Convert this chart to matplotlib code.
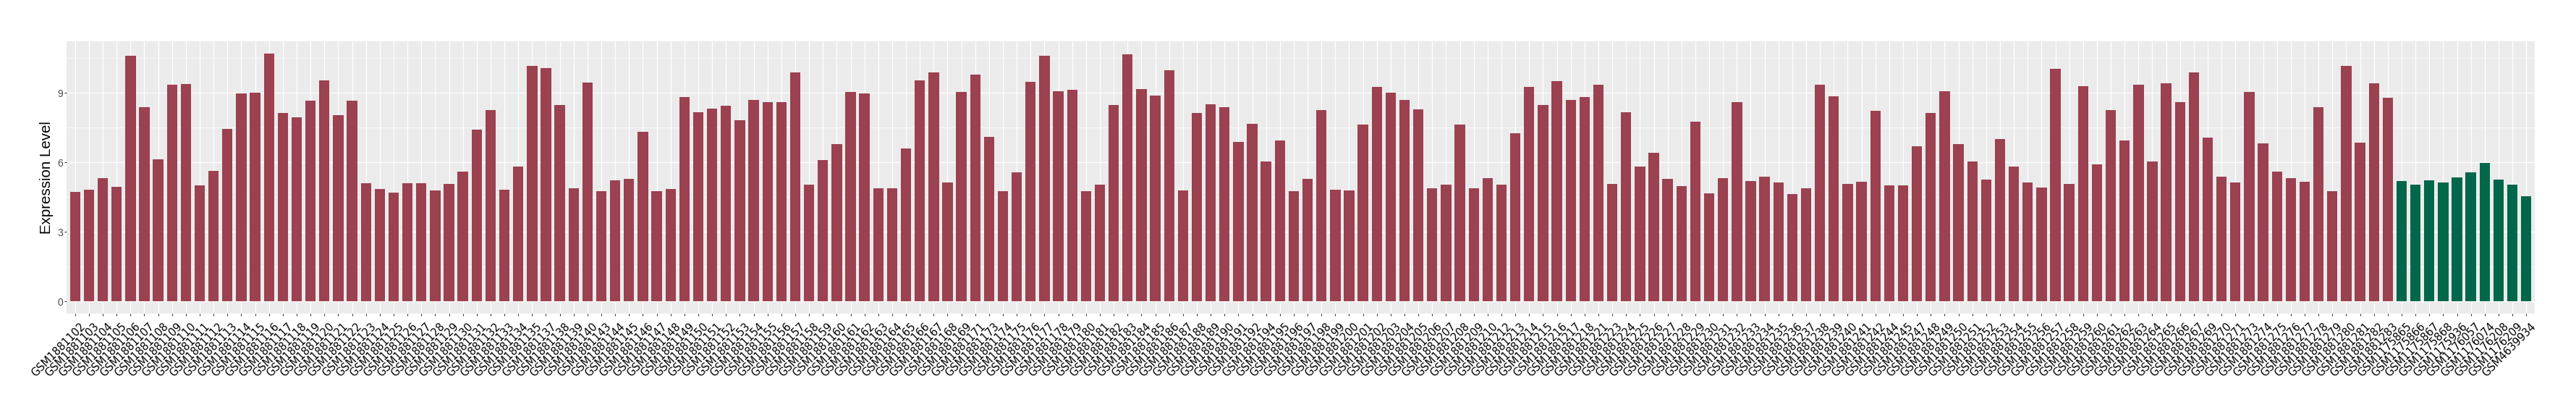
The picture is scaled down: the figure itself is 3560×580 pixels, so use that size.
import matplotlib.pyplot as plt
import numpy as np
from matplotlib.transforms import ScaledTranslation

# Sample IDs and expression levels.
tumor_ids = [
    "GSM1881102", "GSM1881103", "GSM1881104", "GSM1881105", "GSM1881106",
    "GSM1881107", "GSM1881108", "GSM1881109", "GSM1881110", "GSM1881111",
    "GSM1881112", "GSM1881113", "GSM1881114", "GSM1881115", "GSM1881116",
    "GSM1881117", "GSM1881118", "GSM1881119", "GSM1881120", "GSM1881121",
    "GSM1881122", "GSM1881123", "GSM1881124", "GSM1881125", "GSM1881126",
    "GSM1881127", "GSM1881128", "GSM1881129", "GSM1881130", "GSM1881131",
    "GSM1881132", "GSM1881133", "GSM1881134", "GSM1881135", "GSM1881137",
    "GSM1881138", "GSM1881139", "GSM1881140", "GSM1881143", "GSM1881144",
    "GSM1881145", "GSM1881146", "GSM1881147", "GSM1881148", "GSM1881149",
    "GSM1881150", "GSM1881151", "GSM1881152", "GSM1881153", "GSM1881154",
    "GSM1881155", "GSM1881156", "GSM1881157", "GSM1881158", "GSM1881159",
    "GSM1881160", "GSM1881161", "GSM1881162", "GSM1881163", "GSM1881164",
    "GSM1881165", "GSM1881166", "GSM1881167", "GSM1881168", "GSM1881169",
    "GSM1881171", "GSM1881173", "GSM1881174", "GSM1881175", "GSM1881176",
    "GSM1881177", "GSM1881178", "GSM1881179", "GSM1881180", "GSM1881181",
    "GSM1881182", "GSM1881183", "GSM1881184", "GSM1881185", "GSM1881186",
    "GSM1881187", "GSM1881188", "GSM1881189", "GSM1881190", "GSM1881191",
    "GSM1881192", "GSM1881194", "GSM1881195", "GSM1881196", "GSM1881197",
    "GSM1881198", "GSM1881199", "GSM1881200", "GSM1881201", "GSM1881202",
    "GSM1881203", "GSM1881204", "GSM1881205", "GSM1881206", "GSM1881207",
    "GSM1881208", "GSM1881209", "GSM1881210", "GSM1881212", "GSM1881213",
    "GSM1881214", "GSM1881215", "GSM1881216", "GSM1881217", "GSM1881218",
    "GSM1881221", "GSM1881223", "GSM1881224", "GSM1881225", "GSM1881226",
    "GSM1881227", "GSM1881228", "GSM1881229", "GSM1881230", "GSM1881231",
    "GSM1881232", "GSM1881233", "GSM1881234", "GSM1881235", "GSM1881236",
    "GSM1881237", "GSM1881238", "GSM1881239", "GSM1881240", "GSM1881241",
    "GSM1881242", "GSM1881244", "GSM1881245", "GSM1881247", "GSM1881248",
    "GSM1881249", "GSM1881250", "GSM1881251", "GSM1881252", "GSM1881253",
    "GSM1881254", "GSM1881255", "GSM1881256", "GSM1881257", "GSM1881258",
    "GSM1881259", "GSM1881260", "GSM1881261", "GSM1881262", "GSM1881263",
    "GSM1881264", "GSM1881265", "GSM1881266", "GSM1881267", "GSM1881269",
    "GSM1881270", "GSM1881271", "GSM1881273", "GSM1881274", "GSM1881275",
    "GSM1881276", "GSM1881277", "GSM1881278", "GSM1881279", "GSM1881280",
    "GSM1881281", "GSM1881282", "GSM1881283",
]
tumor_levels = [
    4.73, 4.82, 5.32, 4.95, 10.61, 8.39, 6.13, 9.36, 9.38, 5.01,
    5.63, 7.45, 8.98, 9.01, 10.70, 8.13, 7.95, 8.66, 9.54, 8.04,
    8.66, 5.10, 4.85, 4.70, 5.10, 5.10, 4.79, 5.07, 5.60, 7.42,
    8.26, 4.82, 5.82, 10.17, 10.08, 8.48, 4.88, 9.45, 4.75, 5.23,
    5.29, 7.32, 4.75, 4.85, 8.83, 8.17, 8.32, 8.44, 7.82, 8.70,
    8.61, 8.61, 9.89, 5.04, 6.11, 6.79, 9.05, 8.98, 4.88, 4.88,
    6.61, 9.54, 9.89, 5.14, 9.05, 9.80, 7.10, 4.75, 5.58, 9.49,
    10.61, 9.07, 9.14, 4.75, 5.04, 8.48, 10.67, 9.16, 8.88, 9.98,
    4.79, 8.13, 8.51, 8.39, 6.88, 7.67, 6.04, 6.95, 4.75, 5.29,
    8.26, 4.82, 4.79, 7.63, 9.27, 9.01, 8.70, 8.29, 4.88, 5.04,
    7.63, 4.88, 5.32, 5.04, 7.26, 9.27, 8.48, 9.51, 8.70, 8.83,
    9.36, 5.07, 8.17, 5.82, 6.42, 5.29, 4.97, 7.76, 4.66, 5.32,
    8.61, 5.19, 5.38, 5.14, 4.63, 4.88, 9.36, 8.85, 5.07, 5.16,
    8.22, 5.01, 5.01, 6.70, 8.13, 9.07, 6.79, 6.04, 5.26, 7.01,
    5.82, 5.14, 4.92, 10.04, 5.07, 9.29, 5.91, 8.26, 6.95, 9.36,
    6.04, 9.42, 8.61, 9.89, 7.07, 5.38, 5.14, 9.05, 6.83, 5.60,
    5.32, 5.16, 8.39, 4.75, 10.17, 6.85, 9.42, 8.79,
]
normal_ids = [
    "GSM1175865", "GSM1175866", "GSM1175867", "GSM1175868", "GSM1175936",
    "GSM1176057", "GSM1176074", "GSM1176208", "GSM1176209", "GSM4639934",
]
normal_levels = [5.19, 5.04, 5.23, 5.14, 5.36, 5.58, 5.98, 5.26, 5.04, 4.53]

TUMOR_COLOR = "#9B4150"
NORMAL_COLOR = "#02674A"

samples = tumor_ids + normal_ids
levels = tumor_levels + normal_levels
colors = [TUMOR_COLOR] * len(tumor_ids) + [NORMAL_COLOR] * len(normal_ids)
x = np.arange(len(samples))

W, H = 3560, 580
fig = plt.figure(figsize=(W / 100, H / 100), dpi=100)
# panel placed to match the reference (pixel coords measured from it)
ax = fig.add_axes([92.3 / W, 146.7 / H, (3502.7 - 92.3) / W, (433.3 - 56.7) / H])

ax.bar(x, levels, width=0.75, color=colors, zorder=3)

ax.set_facecolor("#EBEBEB")
for s in ax.spines.values():
    s.set_visible(False)

# ggplot-like expansion
top = max(levels)
ax.set_xlim(-0.6, len(samples) - 0.4)
ax.set_ylim(-0.05 * top, 1.05 * top)

ax.set_yticks([0, 3, 6, 9])
ax.set_yticks([1.5, 4.5, 7.5, 10.5], minor=True)
ax.set_axisbelow(True)
ax.grid(which="major", color="white", linewidth=0.9)
ax.grid(which="minor", axis="y", color="white", linewidth=0.45)

ax.set_xticks(x)
ax.set_xticklabels(
    samples, rotation=45, ha="right", va="top", rotation_mode="anchor",
    fontsize=10.5, family="DejaVu Sans", color="black",
)
ax.tick_params(axis="both", which="major", length=2, width=0.8, color="#333333")
ax.tick_params(axis="both", which="minor", length=0)
ax.tick_params(axis="x", pad=5)
ax.tick_params(axis="y", pad=1.8, labelsize=10, labelcolor="#4D4D4D")
for lbl in ax.get_yticklabels():
    lbl.set_family("Liberation Sans")

# nudge rotated labels so their ends sit just right of the tick, as in the reference
offset = ScaledTranslation(6 / 100, 0, fig.dpi_scale_trans)
for lbl in ax.get_xticklabels():
    lbl.set_transform(lbl.get_transform() + offset)

fig.text(65 / W, 1 - 245 / H, "Expression Level", rotation=90,
         ha="center", va="center", fontsize=14.8, family="Liberation Sans")

fig.savefig("out.png", dpi=100)
